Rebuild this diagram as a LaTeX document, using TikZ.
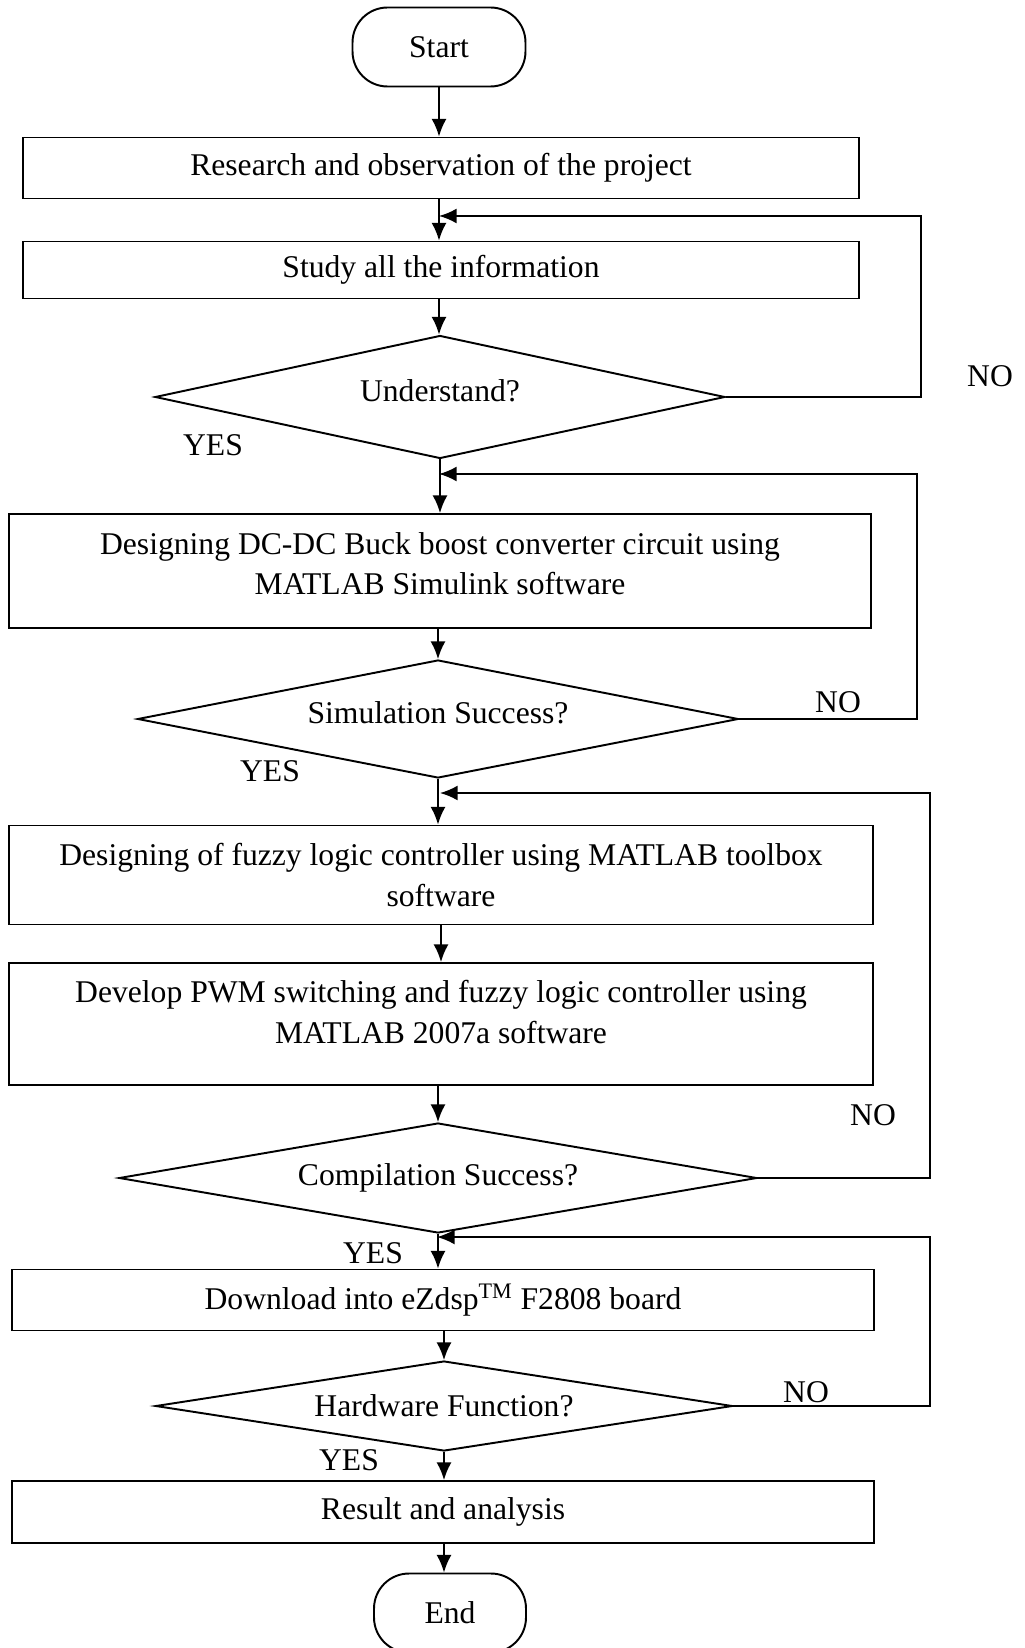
\documentclass[tikz,border=0pt]{standalone}
\usepackage{fontspec}
\setmainfont{Liberation Serif}
\usetikzlibrary{shapes.geometric,arrows.meta}

\begin{document}
\begin{tikzpicture}[x=0.02cm,y=-0.02cm,
    every node/.style={font=\fontsize{18}{23.3}\selectfont},
    terminal/.style={draw, line width=1.1pt, rounded corners=0.7cm, minimum width=3.46cm, minimum height=1.58cm},
    process/.style={draw, line width=1.1pt, align=center, minimum width=17.26cm, minimum height=1.22cm},
    decision/.style={draw, line width=1.1pt, diamond, aspect=5, inner sep=0pt},
    flow/.style={line width=1.1pt, -{Latex[length=10pt,width=8.5pt]}}]
        \useasboundingbox (0,0) rectangle (1024,1648);

        % main column of steps
        \node[terminal] (start) at (439,47) {Start};
        \node[process, minimum width=16.72cm] (research) at (441,168) {Research and observation of the project};
        \node[process, minimum width=16.72cm, minimum height=1.14cm] (study) at (441,270) {Study all the information};
        \node[decision, minimum width=11.4cm, minimum height=2.46cm, text depth=0.25cm] (understand) at (440,397) {Understand?};
        \node[process, minimum height=2.28cm, text depth=0.3cm] (circuit) at (440,571) {Designing DC-DC Buck boost converter circuit using\\MATLAB Simulink software};
        \node[decision, minimum width=12.02cm, minimum height=2.36cm, text depth=0.25cm] (simulation) at (438,719) {Simulation Success?};
        \node[process, minimum width=17.28cm, minimum height=1.98cm] (fuzzy) at (441,875) {Designing of fuzzy logic controller using MATLAB toolbox\\software};
        \node[process, minimum width=17.28cm, minimum height=2.44cm, text depth=0.47cm] (pwm) at (441,1024) {Develop PWM switching and fuzzy logic controller using\\MATLAB 2007a software};
        \node[decision, minimum width=12.76cm, minimum height=2.2cm] (compile) at (438,1178) {Compilation Success?};
        \node[process] (download) at (443,1300) {Download into eZdsp\textsuperscript{TM} F2808 board};
        \node[decision, minimum width=11.54cm, minimum height=1.8cm] (hardware) at (444,1406) {Hardware Function?};
        \node[process, minimum height=1.24cm] (result) at (443,1512) {Result and analysis};
        \node[terminal, minimum width=3.04cm] (finish) at (450,1613) {End};

        % downward arrows
        \draw[flow] (start.south) -- (start.south |- research.north);
        \draw[flow] (research.south -| start) -- (start |- study.north);
        \draw[flow] (study.south -| start) -- (start |- understand.north);
        \draw[flow] (understand.south) -- (understand.south |- circuit.north);
        \draw[flow] (circuit.south -| simulation) -- (simulation.north);
        \draw[flow] (simulation.south) -- (simulation.south |- fuzzy.north);
        \draw[flow] (fuzzy.south) -- (pwm.north);
        \draw[flow] (pwm.south -| compile) -- (compile.north);
        \draw[flow] (compile.south) -- (compile.south |- download.north);
        \draw[flow] (download.south -| hardware) -- (hardware.north);
        \draw[flow] (hardware.south) -- (hardware.south |- result.north);
        \draw[flow] (result.south -| hardware) -- (hardware |- finish.north);

        % NO loops back into the column
        \coordinate (side1) at (921,216);
        \coordinate (back1) at (439,216);
        \draw[flow] (understand.east) -| (side1) -- (back1);

        \coordinate (side2) at (917,474);
        \coordinate (back2) at (439,474);
        \draw[flow] (simulation.east) -| (side2) -- (back2);

        \coordinate (side3) at (930,793);
        \coordinate (back3) at (440,793);
        \draw[flow] (compile.east) -| (side3) -- (back3);

        \coordinate (side4) at (930,1237);
        \coordinate (back4) at (437,1237);
        \draw[flow] (hardware.east) -| (side4) -- (back4);

        % YES / NO labels
        \node (no1) at (990,376) {NO};
        \node (yes1) at (213,445) {YES};
        \node (no2) at (838,702) {NO};
        \node (yes2) at (270,771) {YES};
        \node (no3) at (873,1115) {NO};
        \node (yes3) at (373,1253) {YES};
        \node (no4) at (806,1392) {NO};
        \node (yes4) at (349,1460) {YES};
    \end{tikzpicture}
\end{document}
